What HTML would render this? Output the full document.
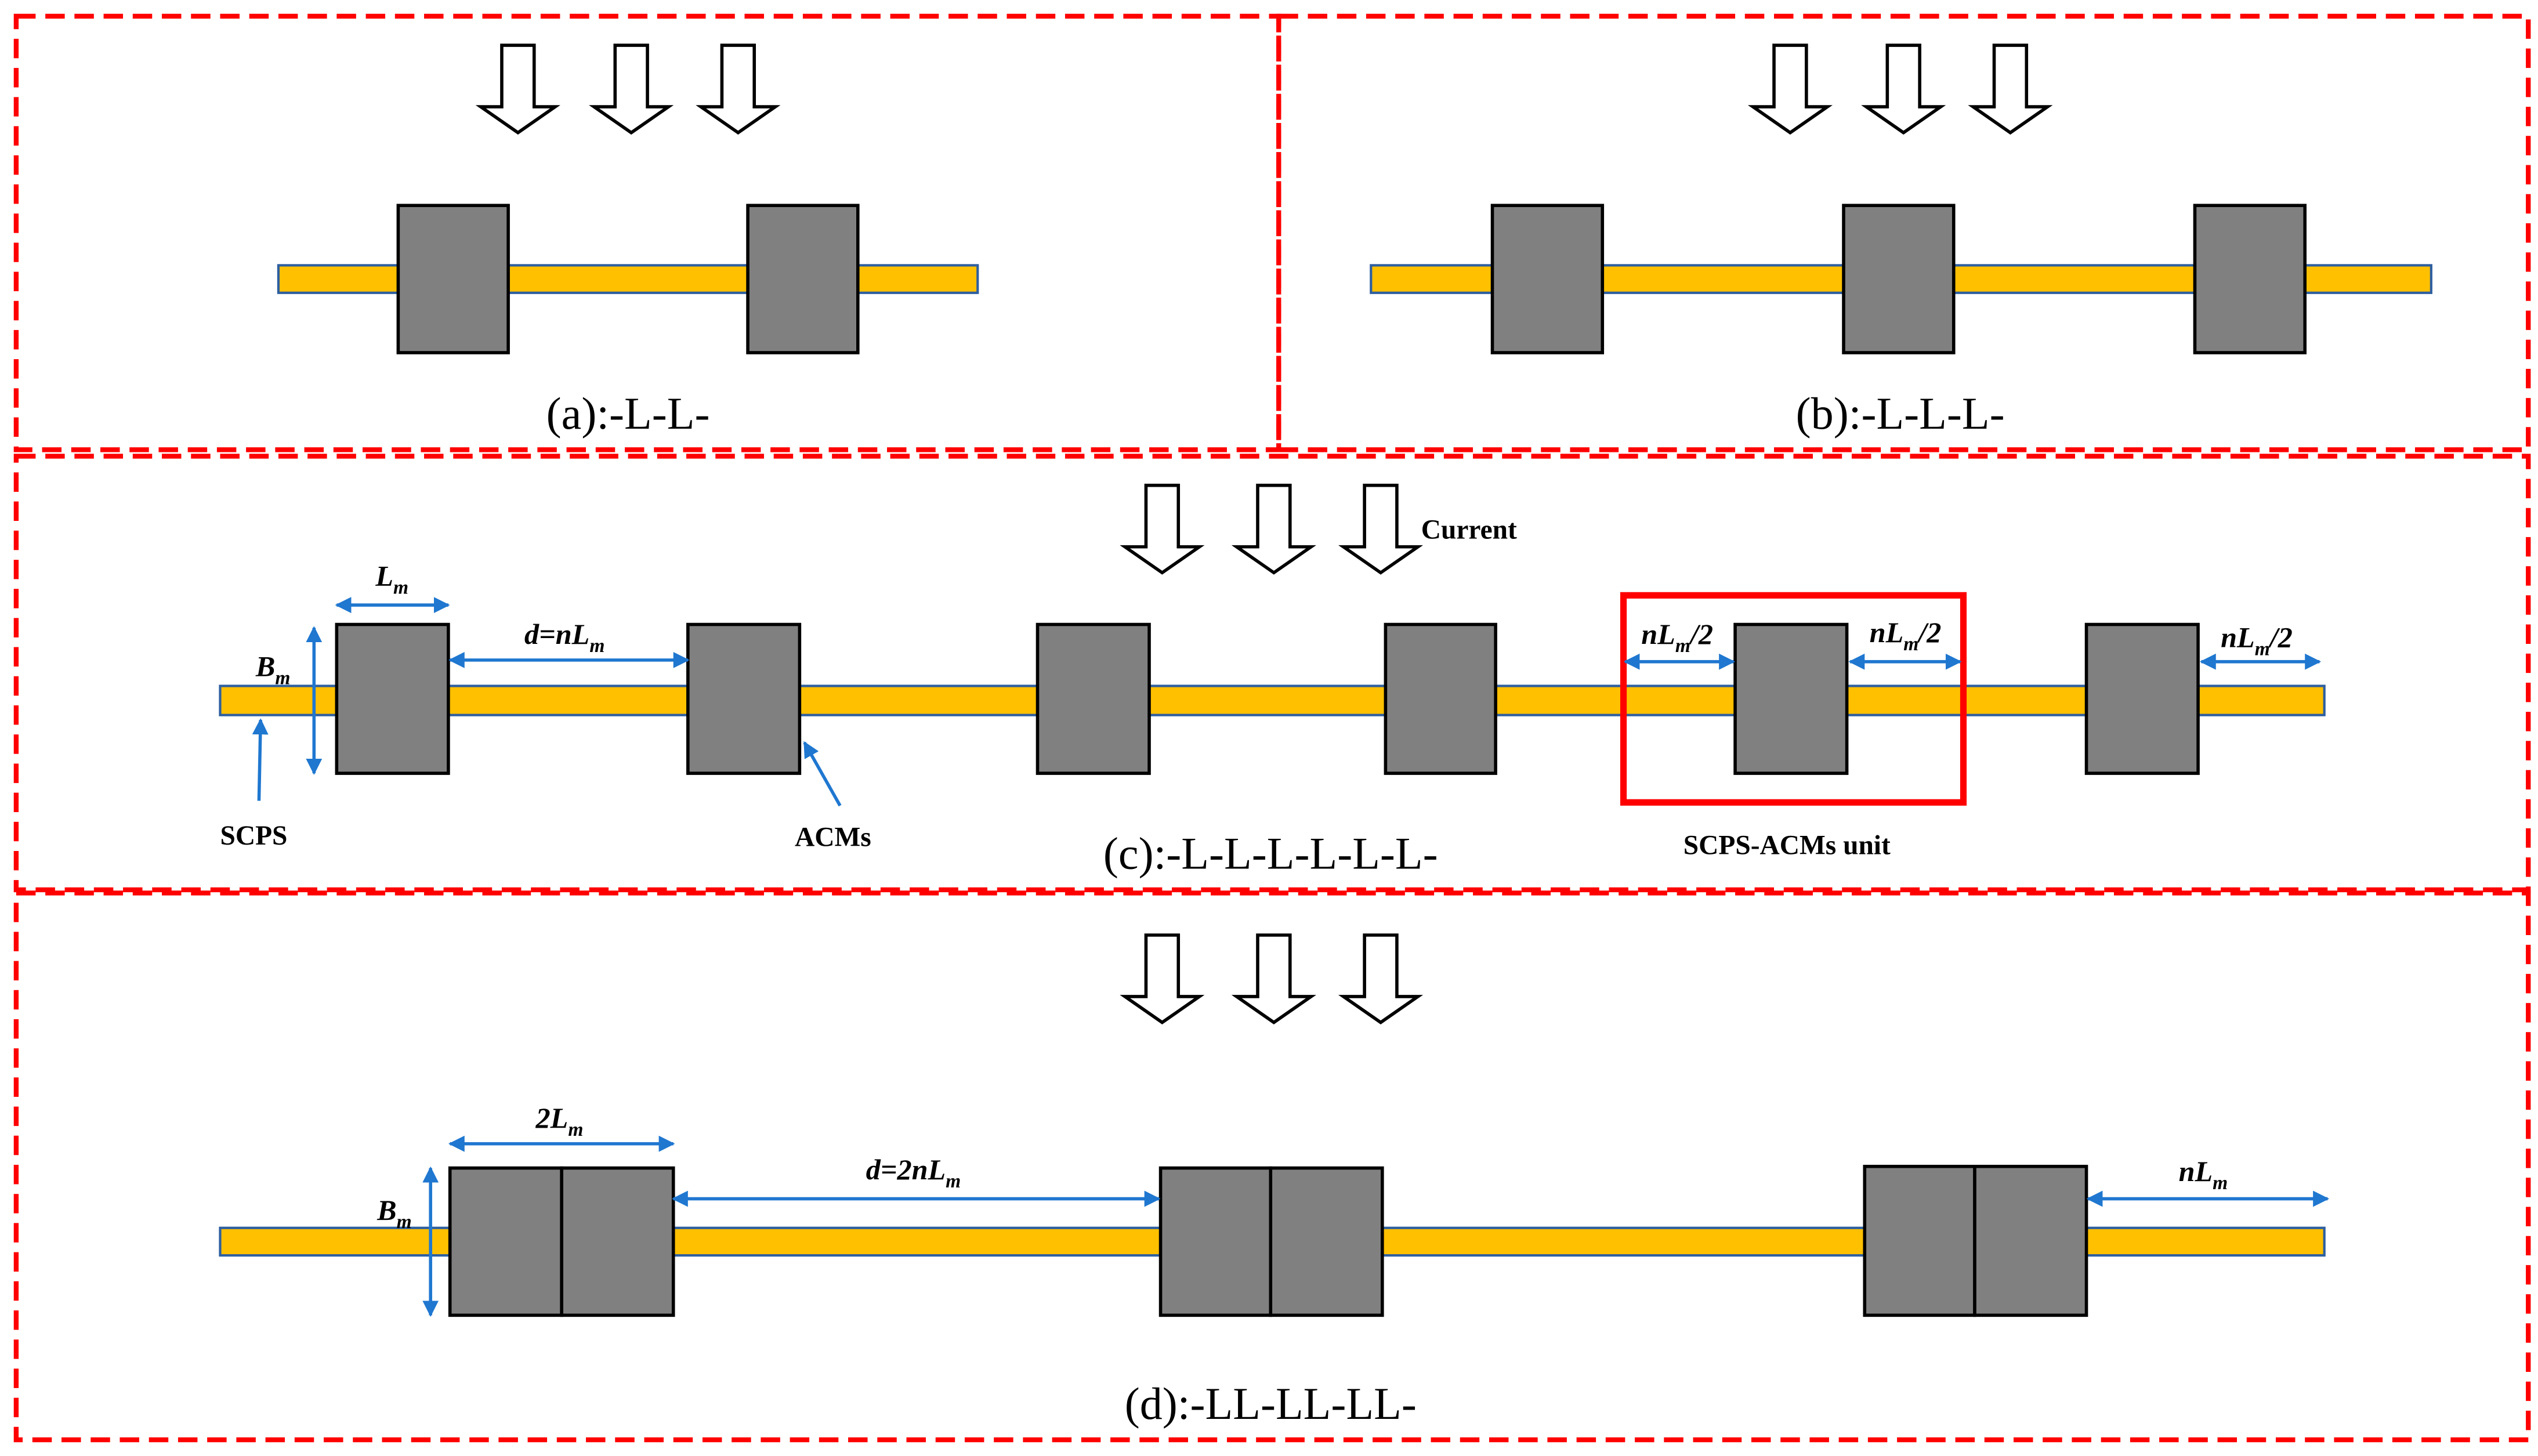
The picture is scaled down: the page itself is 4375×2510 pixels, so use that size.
<!DOCTYPE html>
<html><head><meta charset="utf-8"><style>
html,body{margin:0;padding:0;background:#fff;}
svg{display:block;}
text{font-family:"Liberation Serif",serif;}
</style></head><body>
<svg width="4375" height="2510" viewBox="0 0 1568 900" preserveAspectRatio="none">
<defs>
<marker id="ah" viewBox="0 0 10 10" refX="9" refY="5" markerWidth="5" markerHeight="5" orient="auto-start-reverse" markerUnits="strokeWidth">
<path d="M0,0 L10,5 L0,10 Z" fill="#1f77d0"/></marker>
<g id="dn"><path d="M-10,0 H10 V38 H23 L0,54 L-23,38 H-10 Z" fill="#fff" stroke="#000" stroke-width="2"/></g>
</defs>
<rect width="1568" height="900" fill="#fff"/>
<g fill="none" stroke="#f00" stroke-width="3" stroke-dasharray="12,6">
<rect x="10" y="10" width="780" height="268"/>
<rect x="790" y="10" width="772" height="268"/>
<rect x="10" y="282" width="1552" height="268"/>
<rect x="10" y="552" width="1552" height="338"/>
</g>
<use href="#dn" x="320" y="28"/><use href="#dn" x="390" y="28"/><use href="#dn" x="456" y="28"/>
<use href="#dn" x="1106" y="28"/><use href="#dn" x="1176" y="28"/><use href="#dn" x="1242" y="28"/>
<use href="#dn" x="718" y="300"/><use href="#dn" x="787" y="300"/><use href="#dn" x="853" y="300"/>
<use href="#dn" x="718" y="578"/><use href="#dn" x="787" y="578"/><use href="#dn" x="853" y="578"/>
<g stroke="#2e5fa0" stroke-width="1.5" fill="#ffc000">
<rect x="172" y="164" width="432" height="17"/>
<rect x="847" y="164" width="655" height="17"/>
<rect x="136" y="424" width="1300" height="18"/>
<rect x="136" y="759" width="1300" height="17"/>
</g>
<g fill="#808080" stroke="#000" stroke-width="2">
<rect x="246" y="127" width="68" height="91"/><rect x="462" y="127" width="68" height="91"/>
<rect x="922" y="127" width="68" height="91"/><rect x="1139" y="127" width="68" height="91"/><rect x="1356" y="127" width="68" height="91"/>
<rect x="208" y="386" width="69" height="92"/><rect x="425" y="386" width="69" height="92"/><rect x="641" y="386" width="69" height="92"/>
<rect x="856" y="386" width="68" height="92"/><rect x="1072" y="386" width="69" height="92"/><rect x="1289" y="386" width="69" height="92"/>
<rect x="278" y="722" width="69" height="91"/><rect x="347" y="722" width="69" height="91"/>
<rect x="717" y="722" width="68" height="91"/><rect x="785" y="722" width="69" height="91"/>
<rect x="1152" y="721" width="68" height="92"/><rect x="1220" y="721" width="69" height="92"/>
</g>
<rect x="1003" y="368" width="210" height="128" fill="none" stroke="#f00" stroke-width="4"/>
<g stroke="#1f77d0" stroke-width="2" fill="none" marker-start="url(#ah)" marker-end="url(#ah)">
<line x1="208" y1="374" x2="277" y2="374"/>
<line x1="278" y1="408" x2="425" y2="408"/>
<line x1="194" y1="388" x2="194" y2="478"/>
<line x1="1004" y1="409" x2="1071" y2="409"/>
<line x1="1143" y1="409" x2="1211" y2="409"/>
<line x1="1360" y1="409" x2="1433" y2="409"/>
<line x1="278" y1="707" x2="416" y2="707"/>
<line x1="416" y1="741" x2="716" y2="741"/>
<line x1="1290" y1="741" x2="1438" y2="741"/>
<line x1="266" y1="722" x2="266" y2="813"/>
</g>
<g stroke="#1f77d0" stroke-width="2" fill="none" marker-end="url(#ah)">
<line x1="160" y1="495" x2="161" y2="445"/>
<line x1="519" y1="498" x2="497" y2="459"/>
</g>
<g font-size="28" text-anchor="middle" fill="#000">
<text x="388" y="265">(a):-L-L-</text>
<text x="1174" y="265">(b):-L-L-L-</text>
<text x="785" y="537">(c):-L-L-L-L-L-L-</text>
<text x="785" y="877">(d):-LL-LL-LL-</text>
</g>
<g font-size="17" font-weight="bold" fill="#000">
<text x="878" y="333">Current</text>
<text x="136" y="522">SCPS</text>
<text x="491" y="523">ACMs</text>
<text x="1040" y="528">SCPS-ACMs unit</text>
</g>
<g font-size="18" font-style="italic" font-weight="bold" fill="#000">
<text x="232" y="362">L<tspan font-size="12" dy="5">m</tspan></text>
<text x="324" y="398">d=nL<tspan font-size="12" dy="5">m</tspan></text>
<text x="158" y="418">B<tspan font-size="12" dy="5">m</tspan></text>
<text x="1014" y="398">nL<tspan font-size="12" dy="5">m</tspan><tspan dy="-5">/2</tspan></text>
<text x="1155" y="397">nL<tspan font-size="12" dy="5">m</tspan><tspan dy="-5">/2</tspan></text>
<text x="1372" y="400">nL<tspan font-size="12" dy="5">m</tspan><tspan dy="-5">/2</tspan></text>
<text x="331" y="697">2L<tspan font-size="12" dy="5">m</tspan></text>
<text x="535" y="729">d=2nL<tspan font-size="12" dy="5">m</tspan></text>
<text x="1346" y="730">nL<tspan font-size="12" dy="5">m</tspan></text>
<text x="233" y="754">B<tspan font-size="12" dy="5">m</tspan></text>
</g>
</svg>
</body></html>
